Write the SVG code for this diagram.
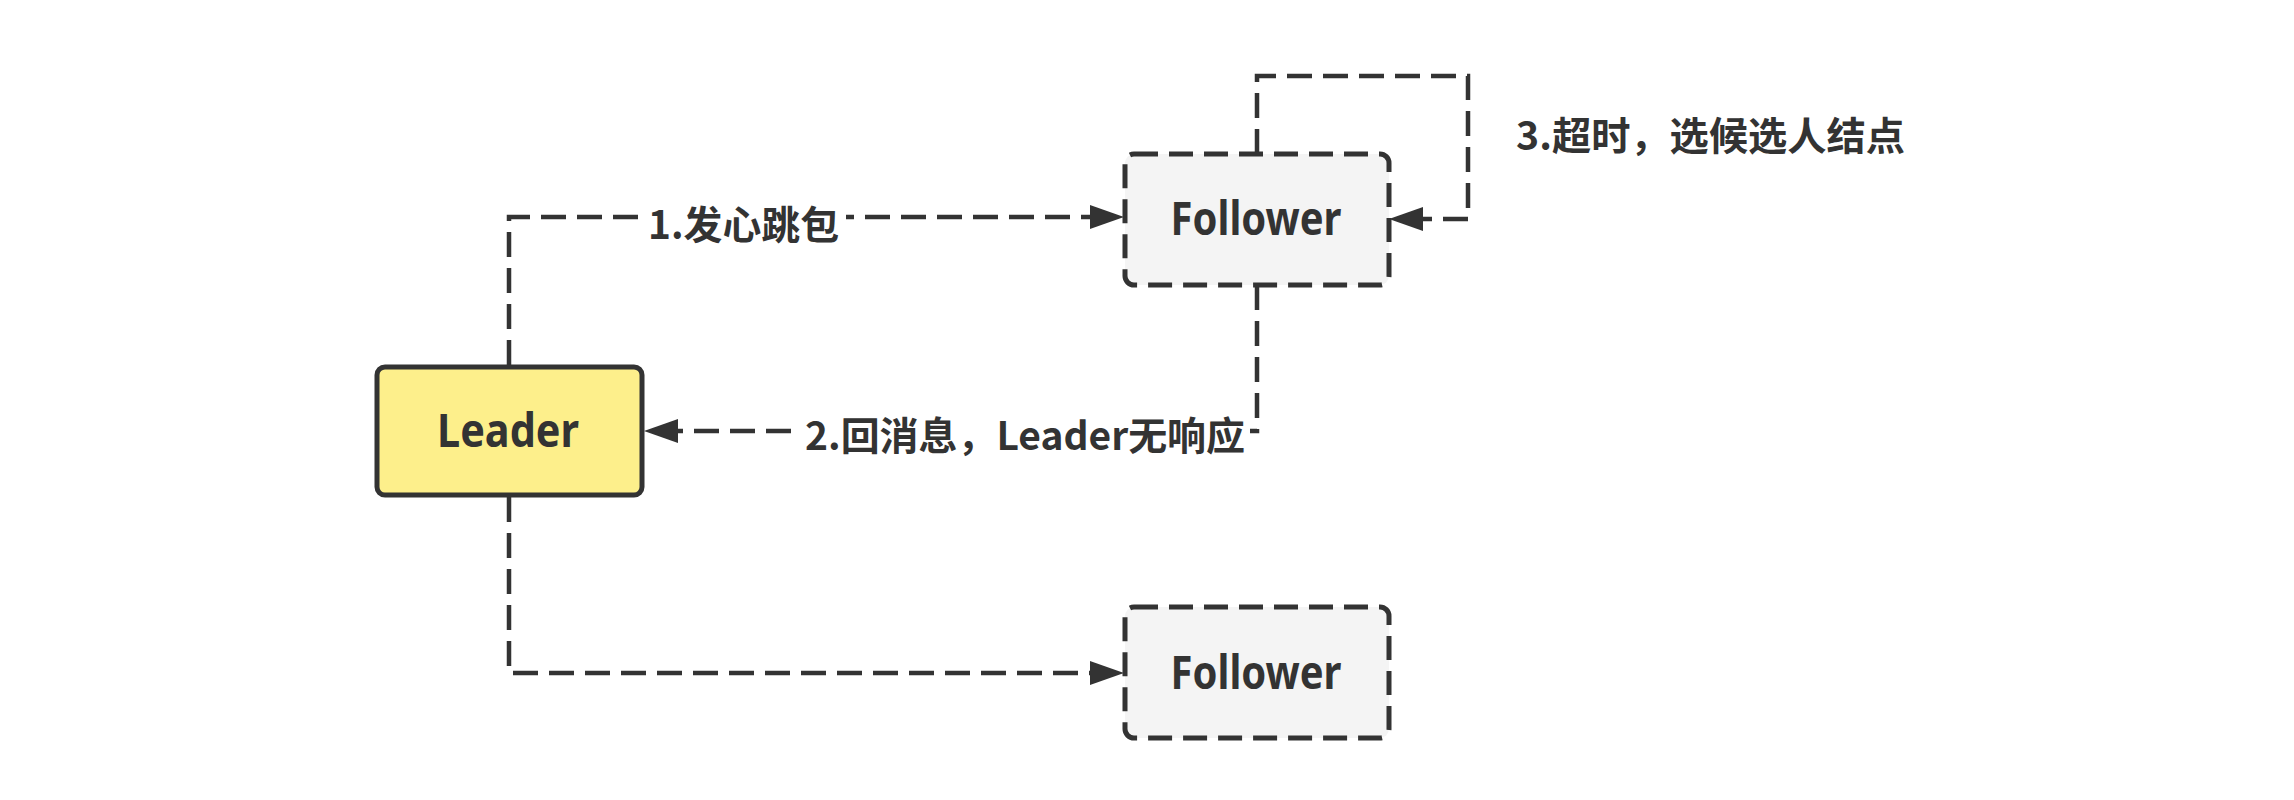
<svg xmlns="http://www.w3.org/2000/svg" width="2294" height="800" viewBox="0 0 2294 800">
<defs>
<style>
.node-solid{fill:#fdef8b;stroke:#333333;stroke-width:5}
.node-dash{fill:#f4f4f4;stroke:#333333;stroke-width:5;stroke-dasharray:24 11}
.conn{fill:none;stroke:#333333;stroke-width:4.5;stroke-dasharray:25 11}
.nlabel{font-family:"Comic Sans MS","Noto Sans","Noto Sans CJK SC",sans-serif;font-weight:bold;font-size:46px;fill:#333333;text-anchor:middle;dominant-baseline:central}
.elabel{font-family:"Noto Sans CJK SC","Noto Sans",sans-serif;font-weight:bold;font-size:39px;fill:#333333;dominant-baseline:central}
.lblbg{fill:#ffffff}
</style>
<marker id="arrow" viewBox="0 0 34 24" markerWidth="34" markerHeight="24" refX="2" refY="12" orient="auto" markerUnits="userSpaceOnUse">
<path d="M0,0 L34,12 L0,24 Z" fill="#333333"/>
</marker>
</defs>
<rect width="2294" height="800" fill="#ffffff"/>
<g id="connectors">
<path class="conn" d="M509,365 V217 H1092" marker-end="url(#arrow)"/>
<path class="conn" d="M1257,285 V431 H676" marker-end="url(#arrow)"/>
<path class="conn" d="M1257,154 V76 H1468 V219 H1421" marker-end="url(#arrow)"/>
<path class="conn" d="M509,497 V673 H1092" marker-end="url(#arrow)"/>
<rect class="lblbg" x="642" y="200" width="204" height="44"/>
<text class="elabel" x="648" y="222" textLength="191" lengthAdjust="spacingAndGlyphs">1.发心跳包</text>
<rect class="lblbg" x="800" y="410" width="450" height="46"/>
<text class="elabel" x="805" y="433" textLength="440" lengthAdjust="spacingAndGlyphs">2.回消息，Leader无响应</text>
<text class="elabel" x="1516" y="133" textLength="389" lengthAdjust="spacingAndGlyphs">3.超时，选候选人结点</text>
</g>
<g id="leader">
<rect class="node-solid" x="377" y="367" width="265" height="128" rx="8"/>
<text class="nlabel" x="508" y="429" textLength="142" lengthAdjust="spacingAndGlyphs">Leader</text>
</g>
<g id="follower1">
<rect class="node-dash" x="1125" y="154" width="264" height="131" rx="9"/>
<text class="nlabel" x="1256" y="217" textLength="171" lengthAdjust="spacingAndGlyphs">Follower</text>
</g>
<g id="follower2">
<rect class="node-dash" x="1125" y="607" width="264" height="131" rx="9"/>
<text class="nlabel" x="1256" y="671" textLength="171" lengthAdjust="spacingAndGlyphs">Follower</text>
</g>
</svg>
